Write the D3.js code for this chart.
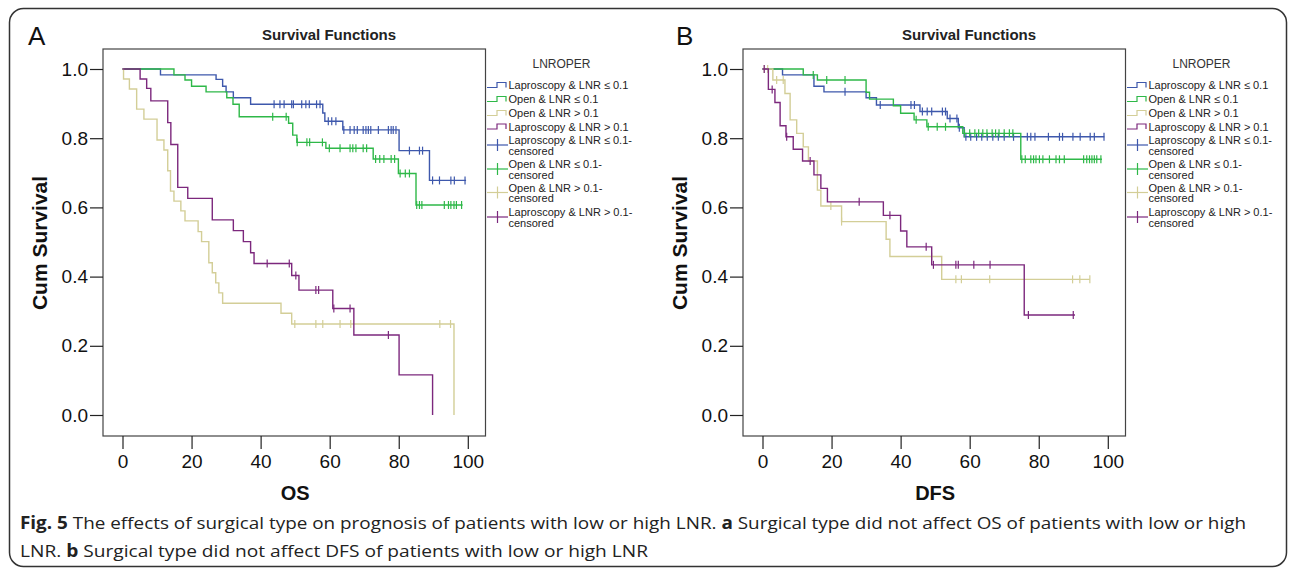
<!DOCTYPE html>
<html>
<head>
<meta charset="utf-8">
<script src="https://cdn.jsdelivr.net/npm/d3@7"></script>
<style>
  body { margin: 0; background: #fff; }
  svg { display: block; }
</style>
</head>
<body>
<script>
// Groupes et couleurs (ordre de la legende)
var groups = ['Laproscopy & LNR \u2264 0.1', 'Open & LNR \u2264 0.1', 'Open & LNR > 0.1', 'Laproscopy & LNR > 0.1']
var colours = ['#3e58ac', '#2eb848', '#d3ce97', '#7c287d']
var xTicks = [0, 20, 40, 60, 80, 100]
var yTicks = [0, 0.2, 0.4, 0.6, 0.8, 1.0]

// OS : paliers [temps, survie] et temps censures
var osLapLow = [[0, 1], [11, 0.983], [27.1, 0.97], [29, 0.95], [30, 0.934], [32.1, 0.917], [37.1, 0.898], [58, 0.873], [58.6, 0.849], [63.8, 0.824], [80.1, 0.764], [88.9, 0.678], [99.5, 0.678]]
var osLapLowCens = [43.9, 45.6, 46.8, 49, 49.5, 51.9, 53.1, 54.1, 56.2, 57.2, 59.6, 60.6, 61.8, 64.1, 65.9, 67.1, 68, 69.7, 70.5, 71.2, 71.9, 74.1, 77, 77.8, 78.4, 79.2, 83.1, 86, 86.9, 89.8, 91.8, 95.1, 96.1, 99.2]
var osOpenLow = [[0, 1], [14.9, 0.983], [18.1, 0.968], [20, 0.95], [24.2, 0.934], [30.2, 0.917], [32, 0.898], [33.8, 0.862], [48.1, 0.843], [49.3, 0.809], [50.5, 0.788], [58.9, 0.771], [72.6, 0.74], [79.9, 0.698], [85, 0.607], [98.5, 0.607]]
var osOpenLowCens = [43.5, 47.4, 50.6, 53.4, 54.2, 57.9, 59.9, 63, 65.9, 66.7, 67.6, 69.7, 70.7, 73.3, 74.5, 75.7, 77.8, 78.8, 80.4, 81.9, 83.1, 85.2, 86, 86.7, 93.2, 94.4, 95.1, 96, 96.7, 98.2]
var osOpenHigh = [[0, 1], [0.3, 0.971], [2, 0.942], [4.1, 0.884], [6.2, 0.855], [10, 0.795], [12, 0.766], [13.1, 0.706], [13.9, 0.647], [14.9, 0.618], [16.9, 0.59], [18.1, 0.561], [21.9, 0.53], [22.9, 0.501], [25, 0.44], [26, 0.411], [27, 0.382], [27.9, 0.353], [29, 0.323], [45.9, 0.294], [49, 0.263], [96, 0]]
var osOpenHighCens = [49.9, 56, 58, 63, 66.1, 91.9, 95]
var osLapHigh = [[0, 1], [5.1, 0.971], [7, 0.944], [8.2, 0.908], [13.1, 0.845], [14, 0.782], [16, 0.658], [18.9, 0.626], [26, 0.564], [32.1, 0.533], [35, 0.501], [37.1, 0.469], [38.1, 0.438], [49, 0.403], [51.1, 0.361], [60.9, 0.308], [67, 0.231], [80.1, 0.116], [89.8, 0]]
var osLapHighCens = [41.9, 48.3, 50.2, 56, 56.8, 61.2, 65.9, 77]

// DFS
var dfsLapLow = [[0, 1], [5.8, 0.983], [14.9, 0.95], [17.8, 0.934], [30, 0.917], [33, 0.896], [45.6, 0.877], [53.5, 0.857], [56.7, 0.83], [58.4, 0.804], [99, 0.804]]
var dfsLapLowCens = [23.9, 34.1, 43, 44, 46.3, 47.7, 49, 52.1, 53, 54.3, 56.3, 57, 58.9, 60.3, 62, 63.5, 65.1, 66.7, 68.3, 70, 72.7, 76.7, 77.7, 78.9, 82.8, 86, 86.9, 89.9, 92, 94.9, 96.1, 98.9]
var dfsOpenLow = [[0, 1], [11.8, 0.983], [15.9, 0.968], [30, 0.933], [31, 0.913], [37.9, 0.894], [40, 0.872], [43.9, 0.853], [47.6, 0.833], [58, 0.814], [74.8, 0.739], [98.3, 0.739]]
var dfsOpenLowCens = [14.7, 18.6, 23.9, 44.5, 48, 50.6, 53, 58.5, 60, 61.5, 62.6, 63.8, 65, 66.5, 67.5, 68.5, 70, 71.5, 72.5, 75.1, 76.1, 77.7, 78.5, 79.2, 80.2, 81.2, 83.1, 85, 86, 87.4, 93, 93.9, 94.7, 95.4, 96.1, 96.8, 98]
var dfsOpenHigh = [[0, 1], [3, 0.968], [6.5, 0.929], [8, 0.853], [9.9, 0.814], [11.8, 0.775], [13.3, 0.734], [15.9, 0.65], [16.9, 0.604], [22.9, 0.559], [35.8, 0.508], [36.9, 0.458], [51.9, 0.392], [94.8, 0.392]]
var dfsOpenHighCens = [0.5, 1.5, 4.1, 6, 19.8, 22.9, 49, 56, 57.6, 65.8, 89.8, 91.9, 94.8]
var dfsLapHigh = [[0, 1], [1.7, 0.941], [3.6, 0.903], [5.1, 0.836], [6.8, 0.804], [8.9, 0.768], [11.6, 0.734], [14.9, 0.694], [16.9, 0.655], [18.8, 0.616], [35, 0.577], [40, 0.532], [41.8, 0.486], [49, 0.434], [75.8, 0.289], [90.5, 0.289]]
var dfsLapHighCens = [0.5, 2.8, 7, 13.8, 28, 36.9, 47.4, 49.5, 56, 56.7, 61.2, 65.9, 77, 90]

var W = 1290, H = 574
var svg = d3.select('body').append('svg').attr('width', W).attr('height', H)
    .attr('font-family', 'Arial, "Liberation Sans", sans-serif')

// cadre exterieur
svg.append('rect')
    .attr('x', 9.5).attr('y', 8.5).attr('width', 1277).attr('height', 558)
    .attr('rx', 14).attr('fill', 'none').attr('stroke', '#333').attr('stroke-width', 1.5)

function levelAt(steps, t) {
    var s = steps[0][1]
    steps.forEach(function (p) { if (p[0] <= t) s = p[1] })
    return s
}

function drawPanel(opt) {
    var g = svg.append('g')
    var left = opt.left, right = opt.left + 382.5, top = 49, bottom = 436
    var x = d3.scaleLinear().domain([0, 100]).range([left + 19.5, left + 364.8])
    var y = d3.scaleLinear().domain([0, 1]).range([415, 69])

    g.append('text').attr('x', opt.letterX).attr('y', 45)
        .attr('font-size', 26).attr('fill', '#111').text(opt.letter)

    g.append('text').attr('x', left + 226).attr('y', 40)
        .attr('text-anchor', 'middle').attr('font-size', 15).attr('font-weight', 'bold')
        .attr('fill', '#222').text('Survival Functions')

    g.append('rect').attr('x', left).attr('y', top)
        .attr('width', right - left).attr('height', bottom - top)
        .attr('fill', 'none').attr('stroke', '#444').attr('stroke-width', 1.2)

    var xAxis = g.append('g').attr('transform', 'translate(0,' + bottom + ')')
        .call(d3.axisBottom(x).tickValues(xTicks).tickSize(13).tickPadding(6))
    var yAxis = g.append('g').attr('transform', 'translate(' + left + ',0)')
        .call(d3.axisLeft(y).tickValues(yTicks).tickSize(13).tickPadding(2).tickFormat(d3.format('.1f')))
    ;[xAxis, yAxis].forEach(function (a) {
        a.select('.domain').remove()
        a.selectAll('line').attr('stroke', '#222').attr('stroke-width', 1.2)
        a.selectAll('text').attr('font-size', 19).attr('font-family', 'Arial, "Liberation Sans", sans-serif').attr('fill', '#111')
    })

    g.append('text').attr('x', (x(0) + x(100)) / 2).attr('y', 500)
        .attr('text-anchor', 'middle').attr('font-size', 20).attr('font-weight', 'bold')
        .attr('fill', '#111').text(opt.xLabel)

    g.append('text').attr('transform', 'translate(' + (left - 56) + ',243) rotate(-90)')
        .attr('text-anchor', 'middle').attr('font-size', 21).attr('font-weight', 'bold')
        .attr('fill', '#111').text('Cum Survival')

    // courbes de Kaplan-Meier
    var line = d3.line().x(function (d) { return x(d[0]) }).y(function (d) { return y(d[1]) })
        .curve(d3.curveStepAfter)
    opt.series.forEach(function (steps, i) {
        g.append('path').attr('d', line(steps))
            .attr('fill', 'none').attr('stroke', colours[i]).attr('stroke-width', 1.4)
        g.selectAll(null).data(opt.censored[i]).join('line')
            .attr('x1', function (t) { return x(t) }).attr('x2', function (t) { return x(t) })
            .attr('y1', function (t) { return y(levelAt(steps, t)) - 4 })
            .attr('y2', function (t) { return y(levelAt(steps, t)) + 4 })
            .attr('stroke', colours[i]).attr('stroke-width', 1.2)
    })

    // legende
    var lx = right + 1.5
    var leg = g.append('g').attr('font-size', 11).attr('fill', '#222')
    leg.append('text').attr('x', right + 76).attr('y', 67.5)
        .attr('text-anchor', 'middle').attr('font-size', 12).attr('fill', '#333').text('LNROPER')
    var rowsY = [85, 99, 113, 126.5]
    groups.forEach(function (name, i) {
        var cy = rowsY[i]
        leg.append('path')
            .attr('d', 'M' + lx + ',' + (cy + 2.5) + 'h10v-5h9v5')
            .attr('fill', 'none').attr('stroke', colours[i]).attr('stroke-width', 1.2)
        leg.append('text').attr('x', right + 23).attr('y', cy + 4).text(name)
    })
    var censY = [145, 169, 192.5, 217]
    groups.forEach(function (name, i) {
        var cy = censY[i]
        leg.append('line').attr('x1', lx).attr('x2', lx + 21).attr('y1', cy).attr('y2', cy)
            .attr('stroke', colours[i]).attr('stroke-width', 1.2)
        leg.append('line').attr('x1', lx + 10.5).attr('x2', lx + 10.5).attr('y1', cy - 6).attr('y2', cy + 6)
            .attr('stroke', colours[i]).attr('stroke-width', 1.2)
        var t = leg.append('text').attr('x', right + 23).attr('y', cy - 1)
        t.append('tspan').text(name + '-')
        t.append('tspan').attr('x', right + 23).attr('dy', 10.5).text('censored')
    })
}

drawPanel({
    left: 103, letter: 'A', letterX: 28, xLabel: 'OS',
    series: [osLapLow, osOpenLow, osOpenHigh, osLapHigh],
    censored: [osLapLowCens, osOpenLowCens, osOpenHighCens, osLapHighCens]
})
drawPanel({
    left: 743, letter: 'B', letterX: 676, xLabel: 'DFS',
    series: [dfsLapLow, dfsOpenLow, dfsOpenHigh, dfsLapHigh],
    censored: [dfsLapLowCens, dfsOpenLowCens, dfsOpenHighCens, dfsLapHighCens]
})

// legende de la figure
var cap = svg.append('g').attr('font-family', '"Open Sans", "Noto Sans", sans-serif')
    .attr('font-size', 17).attr('fill', '#222')
var l1 = cap.append('text').attr('x', 20).attr('y', 529)
    .attr('textLength', 1226).attr('lengthAdjust', 'spacingAndGlyphs')
l1.append('tspan').attr('font-weight', 'bold').text('Fig. 5')
l1.append('tspan').text(' The effects of surgical type on prognosis of patients with low or high LNR. ')
l1.append('tspan').attr('font-weight', 'bold').text('a')
l1.append('tspan').text(' Surgical type did not affect OS of patients with low or high')
var l2 = cap.append('text').attr('x', 20).attr('y', 557)
    .attr('textLength', 628).attr('lengthAdjust', 'spacingAndGlyphs')
l2.append('tspan').text('LNR. ')
l2.append('tspan').attr('font-weight', 'bold').text('b')
l2.append('tspan').text(' Surgical type did not affect DFS of patients with low or high LNR')
</script>
</body>
</html>
